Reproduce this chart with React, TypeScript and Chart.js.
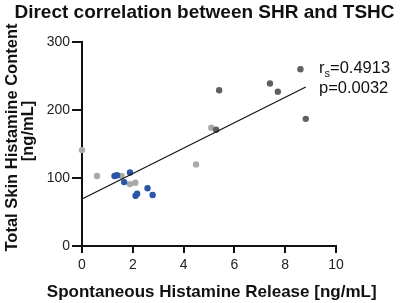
import React, { useEffect, useRef } from "react";
import { Chart, registerables } from "chart.js";

Chart.register(...registerables);

const TITLE = "Direct correlation between SHR and TSHC";
const X_TITLE = "Spontaneous Histamine Release [ng/mL]";
const Y_TITLE_LINES = ["Total Skin Histamine Content", "[ng/mL]"];
const STAT_R = "0.4913";
const STAT_P = "0.0032";

const X_MIN = 0;
const X_MAX = 10;
const X_STEP = 2;
const Y_MIN = 0;
const Y_MAX = 300;
const Y_STEP = 100;

const lightGreyPoints = [
  { x: 0.0, y: 141 },
  { x: 0.59, y: 103 },
  { x: 1.56, y: 103 },
  { x: 1.89, y: 91 },
  { x: 2.1, y: 93 },
  { x: 4.49, y: 120 },
  { x: 5.09, y: 174 },
];

const darkGreyPoints = [
  { x: 5.28, y: 171 },
  { x: 5.4, y: 229 },
  { x: 7.4, y: 239 },
  { x: 7.71, y: 227 },
  { x: 8.6, y: 260 },
  { x: 8.81, y: 187 },
];

const bluePoints = [
  { x: 1.28, y: 103 },
  { x: 1.38, y: 104 },
  { x: 1.89, y: 108 },
  { x: 1.66, y: 94 },
  { x: 2.11, y: 74 },
  { x: 2.17, y: 77 },
  { x: 2.58, y: 85 },
  { x: 2.78, y: 75 },
];

const REG_INTERCEPT = 69;
const REG_SLOPE = 18.72;
const REG_X_START = 0;
const REG_X_END = 8.81;

const FONT = "'Liberation Sans', Arial, sans-serif";
const AXIS_COLOR = "#111";

// Axis lines and tick marks, positioned through the chart's own scales
const axesPlugin = {
  id: "axesLines",
  beforeDatasetsDraw(chart: any) {
    const ctx = chart.ctx as CanvasRenderingContext2D;
    const xs = chart.scales.x;
    const ys = chart.scales.y;
    const area = chart.chartArea;
    const left = Math.round(area.left);
    const bottom = Math.round(area.bottom);
    ctx.save();
    ctx.strokeStyle = AXIS_COLOR;
    ctx.lineWidth = 2;
    ctx.lineCap = "butt";
    ctx.beginPath();
    ctx.moveTo(left, Math.round(area.top) - 1);
    ctx.lineTo(left, bottom + 1);
    ctx.moveTo(left - 1, bottom);
    ctx.lineTo(Math.round(area.right) + 1, bottom);
    for (const t of ys.ticks) {
      const py = Math.round(ys.getPixelForValue(t.value));
      ctx.moveTo(left - 10, py);
      ctx.lineTo(left, py);
    }
    for (const t of xs.ticks) {
      const px = Math.round(xs.getPixelForValue(t.value));
      ctx.moveTo(px, bottom);
      ctx.lineTo(px, bottom + 7);
    }
    ctx.stroke();
    ctx.restore();
  },
};

const regressionPlugin = {
  id: "regressionLine",
  afterDatasetsDraw(chart: any) {
    const ctx = chart.ctx as CanvasRenderingContext2D;
    const xs = chart.scales.x;
    const ys = chart.scales.y;
    ctx.save();
    ctx.strokeStyle = "#111";
    ctx.lineWidth = 1.2;
    ctx.beginPath();
    ctx.moveTo(xs.getPixelForValue(REG_X_START), ys.getPixelForValue(REG_INTERCEPT + REG_SLOPE * REG_X_START));
    ctx.lineTo(xs.getPixelForValue(REG_X_END), ys.getPixelForValue(REG_INTERCEPT + REG_SLOPE * REG_X_END));
    ctx.stroke();
    ctx.restore();
  },
};

const textPlugin = {
  id: "customText",
  afterDraw(chart: any) {
    const ctx = chart.ctx as CanvasRenderingContext2D;
    ctx.save();
    ctx.fillStyle = "#111";
    ctx.font = `bold 19px ${FONT}`;
    ctx.textAlign = "center";
    ctx.textBaseline = "alphabetic";
    ctx.fillText(TITLE, 204.5, 18.3);
    ctx.font = `bold 17px ${FONT}`;
    ctx.fillText(X_TITLE, 211.7, 297.3);
    ctx.font = `bold 16.5px ${FONT}`;
    ctx.save();
    ctx.translate(16.7, 137.5);
    ctx.rotate(-Math.PI / 2);
    ctx.fillText(Y_TITLE_LINES[0], 0, 0);
    ctx.restore();
    ctx.save();
    ctx.translate(32.5, 131);
    ctx.rotate(-Math.PI / 2);
    ctx.fillText(Y_TITLE_LINES[1], 0, 0);
    ctx.restore();
    ctx.textAlign = "left";
    ctx.font = `16.5px ${FONT}`;
    const rx = 319;
    ctx.fillText("r", rx, 73.3);
    const rw = ctx.measureText("r").width;
    ctx.font = `11px ${FONT}`;
    ctx.fillText("s", rx + rw, 77);
    const sw = ctx.measureText("s").width;
    ctx.font = `16.5px ${FONT}`;
    ctx.fillText("=" + STAT_R, rx + rw + sw, 73.3);
    ctx.fillText("p=" + STAT_P, rx, 93.3);
    ctx.restore();
  },
};

function axis(min: number, max: number, step: number, tickLength: number, padding: number, fit: (s: any) => void): any {
  return {
    type: "linear",
    display: true,
    min,
    max,
    afterFit: fit,
    ticks: {
      stepSize: step,
      color: "#222",
      font: { family: FONT, size: 14 },
      padding,
      maxRotation: 0,
    },
    grid: {
      display: true,
      drawOnChartArea: false,
      drawTicks: true,
      tickLength,
      color: AXIS_COLOR,
      lineWidth: 2,
    },
    border: { display: true, color: AXIS_COLOR, width: 2 },
  };
}

export default function App() {
  const ref = useRef<HTMLCanvasElement | null>(null);
  useEffect(() => {
    if (!ref.current) return;
    const chart = new Chart(ref.current, {
      type: "scatter",
      data: {
        datasets: [
          {
            label: "Blue",
            data: bluePoints,
            backgroundColor: "#2a56a6",
            borderWidth: 0,
            pointRadius: 3.2,
            clip: 5,
            order: 1,
          },
          {
            label: "Dark grey",
            data: darkGreyPoints,
            backgroundColor: "#606060",
            borderWidth: 0,
            pointRadius: 3.2,
            clip: 5,
            order: 2,
          },
          {
            label: "Light grey",
            data: lightGreyPoints,
            backgroundColor: "#a9a9a9",
            borderWidth: 0,
            pointRadius: 3.2,
            clip: 5,
            order: 3,
          },
        ] as any,
      },
      options: {
        animation: false,
        responsive: false,
        layout: { padding: { left: 0, top: 42, right: 72, bottom: 0 } },
        plugins: {
          legend: { display: false },
          tooltip: { enabled: false },
          title: { display: false },
        },
        scales: {
          x: axis(X_MIN, X_MAX, X_STEP, 7, 4, (s: any) => { s.height = 57; }),
          y: axis(Y_MIN, Y_MAX, Y_STEP, 10, 2, (s: any) => { s.width = 82; }),
        },
      },
      plugins: [axesPlugin, regressionPlugin, textPlugin],
    });
    return () => chart.destroy();
  }, []);
  return (
    <div style={{ position: "fixed", left: 0, top: 0, width: 408, height: 303, background: "#fff" }}>
      <canvas ref={ref} width={408} height={303} />
    </div>
  );
}
